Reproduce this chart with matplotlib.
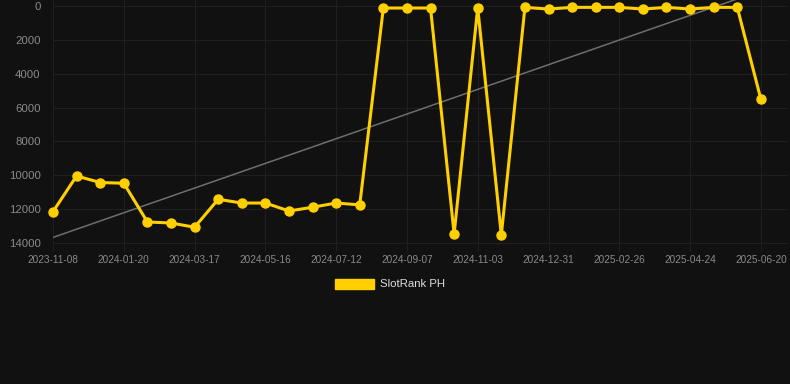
import matplotlib.pyplot as plt
import numpy as np
from matplotlib.patches import Patch

dates = [
    "2023-11-08", "2023-11-28", "2023-12-20", "2024-01-20", "2024-02-07",
    "2024-02-26", "2024-03-17", "2024-04-06", "2024-04-26", "2024-05-16",
    "2024-06-04", "2024-06-23", "2024-07-12", "2024-07-31", "2024-08-19",
    "2024-09-07", "2024-09-26", "2024-10-15", "2024-11-03", "2024-11-22",
    "2024-12-11", "2024-12-31", "2025-01-19", "2025-02-07", "2025-02-26",
    "2025-03-17", "2025-04-05", "2025-04-24", "2025-05-13", "2025-06-01",
    "2025-06-20",
]
ranks = [
    12150, 10040, 10430, 10470, 12760, 12820, 13070, 11420, 11640, 11640,
    12110, 11890, 11640, 11750, 120, 120, 120, 13470, 100, 13530,
    80, 180, 80, 80, 80, 180, 80, 180, 80, 80,
    5510,
]
series_name = "SlotRank PH"

bg = "#111111"
grid_c = "#1f1f1f"
tick_c = "#8a8a8a"
yellow = "#FFD000"

fig = plt.figure(figsize=(7.9, 3.84), dpi=100, facecolor=bg)
ax = fig.add_axes([53 / 790, 1 - 245 / 384, (788 - 53) / 790, 245 / 384])
ax.set_facecolor(bg)

x = np.arange(len(ranks))

# trend line from a linear fit over the points
slope, intercept = np.polyfit(x, ranks, 1)
ax.plot(x, slope * x + intercept, color="#6e6e6e", linewidth=1.1, zorder=2)

ax.plot(
    x, ranks, color=yellow, linewidth=2.2, marker="o", markersize=6.5,
    solid_joinstyle="miter", zorder=3, clip_on=False
)

ax.set_xlim(0, 31.15)
ax.set_ylim(14120, -355)
ax.set_yticks(np.arange(0, 14001, 2000))
ax.set_yticklabels([str(v) for v in range(0, 14001, 2000)])
ax.set_xticks(x[::3])
ax.set_xticklabels(dates[::3])

ax.grid(True, color=grid_c, linewidth=0.75)
ax.set_axisbelow(True)
for s in ax.spines.values():
    s.set_visible(False)
ax.tick_params(axis="y", colors=tick_c, labelsize=8.2, length=0, pad=9)
ax.tick_params(axis="x", colors=grid_c, labelcolor=tick_c, labelsize=7.2,
               length=4, pad=3)
for lab in ax.get_xticklabels() + ax.get_yticklabels():
    lab.set_family("Liberation Sans")

handle = Patch(facecolor=yellow, edgecolor=yellow)
leg = fig.legend(
    [handle], [series_name], loc="center", bbox_to_anchor=(390 / 790, 1 - 284 / 384),
    frameon=False, handlelength=3.4, handleheight=1.0, handletextpad=0.5,
    prop={"family": "Liberation Sans", "size": 8.2}
)
for t in leg.get_texts():
    t.set_color("#dddddd")

fig.savefig("out.png", dpi=100, facecolor=bg)
